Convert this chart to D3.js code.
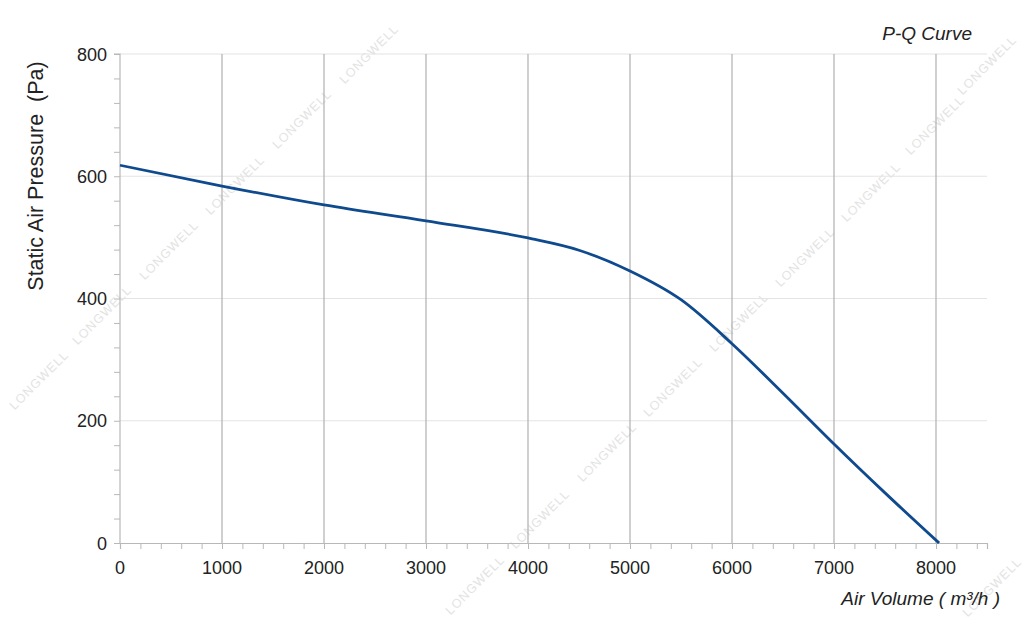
<!DOCTYPE html>
<html><head><meta charset="utf-8">
<script src="https://cdn.jsdelivr.net/npm/d3@7"></script>
<style>body{margin:0;background:#fff;}svg{display:block;font-family:"Liberation Sans",Arial,sans-serif;}</style>
</head><body>
<svg id="c" width="1024" height="634"></svg>
<script>
const flow = [0, 1000, 2000, 3000, 4000, 4500, 5000, 5500, 6000, 6500, 7000, 7500, 8030];
const pressure = [618, 584, 553, 527, 499, 479, 445, 398, 326, 245, 162, 82, 0];
const xTicks = [0, 1000, 2000, 3000, 4000, 5000, 6000, 7000, 8000];
const yTicks = [0, 200, 400, 600, 800];
const titleText = "P-Q Curve";
const xLabel = "Air Volume ( m³/h )";
const yLabel = "Static Air Pressure \u00a0(Pa)";
const watermark = "LONGWELL";

const svg = d3.select("#c");
const x = d3.scaleLinear().domain([0, 8500]).range([120, 987]);
const y = d3.scaleLinear().domain([0, 800]).range([543, 54]);

// watermark
const wmPos = [[42,383],[105,318],[172,253],[238,188],[305,122],[372,57],
  [478,588],[543,522],[610,455],[676,390],[742,325],[808,260],[874,195],[938,128],[990,68],[995,590]];
svg.append("g").selectAll("text").data(wmPos).join("text")
  .attr("transform", d => `translate(${d[0]},${d[1]}) rotate(-45)`)
  .attr("text-anchor","middle").attr("font-size",12.5).attr("fill","#e3e3e3")
  .attr("letter-spacing",1).text(watermark);

// horizontal grid
svg.append("g").selectAll("line").data(yTicks.filter(d=>d>0)).join("line")
  .attr("x1", x(0)).attr("x2", x(8500)).attr("y1", d=>y(d)).attr("y2", d=>y(d))
  .attr("stroke","#e4e4e4").attr("stroke-width",1.2);
// vertical grid
svg.append("g").selectAll("line").data(xTicks.filter(d=>d>0)).join("line")
  .attr("x1", d=>x(d)).attr("x2", d=>x(d)).attr("y1", y(0)).attr("y2", y(800))
  .attr("stroke","#b0b0b0").attr("stroke-width",1.2);

// axes
const xAxis = svg.append("g").attr("transform",`translate(0,${y(0)})`)
  .call(d3.axisBottom(x).tickValues(d3.range(0, 8501, 200)).tickSize(6).tickFormat(""));
xAxis.select(".domain").attr("stroke","#b8b8b8").attr("stroke-width",1.2);
xAxis.selectAll(".tick line").attr("stroke","#b8b8b8");
svg.append("g").selectAll("text").data(xTicks).join("text")
  .attr("x", d=>x(d)).attr("y", 574).attr("text-anchor","middle")
  .attr("font-size",18).attr("fill","#222").text(d=>d);

const yAxis = svg.append("g").attr("transform",`translate(${x(0)},0)`)
  .call(d3.axisLeft(y).tickValues(d3.range(0, 801, 40)).tickSize(6).tickFormat(""));
yAxis.select(".domain").attr("stroke","#b8b8b8").attr("stroke-width",1.2).attr("d", `M-6,${y(800)}H0V${y(0)}`);
yAxis.selectAll(".tick line").attr("stroke","#b8b8b8");
svg.append("g").selectAll("text").data(yTicks).join("text")
  .attr("x", 107).attr("y", d=>y(d)+6.5).attr("text-anchor","end")
  .attr("font-size",18).attr("fill","#222").text(d=>d);

// curve
const pts = flow.map((f,i)=>[f, pressure[i]]);
svg.append("path").datum(pts)
  .attr("d", d3.line().x(d=>x(d[0])).y(d=>y(d[1])).curve(d3.curveMonotoneX))
  .attr("fill","none").attr("stroke","#0f4a8e").attr("stroke-width",2.8);

// labels
svg.append("text").attr("x",972).attr("y",40).attr("text-anchor","end")
  .attr("font-size",19).attr("font-style","italic").attr("fill","#222").text(titleText);
svg.append("text").attr("x",1000).attr("y",605).attr("text-anchor","end")
  .attr("font-size",19).attr("font-style","italic").attr("fill","#222").text(xLabel);
svg.append("text").attr("transform","translate(43,176) rotate(-90)").attr("text-anchor","middle")
  .attr("font-size",21.5).attr("fill","#222").text(yLabel);
</script>
</body></html>
